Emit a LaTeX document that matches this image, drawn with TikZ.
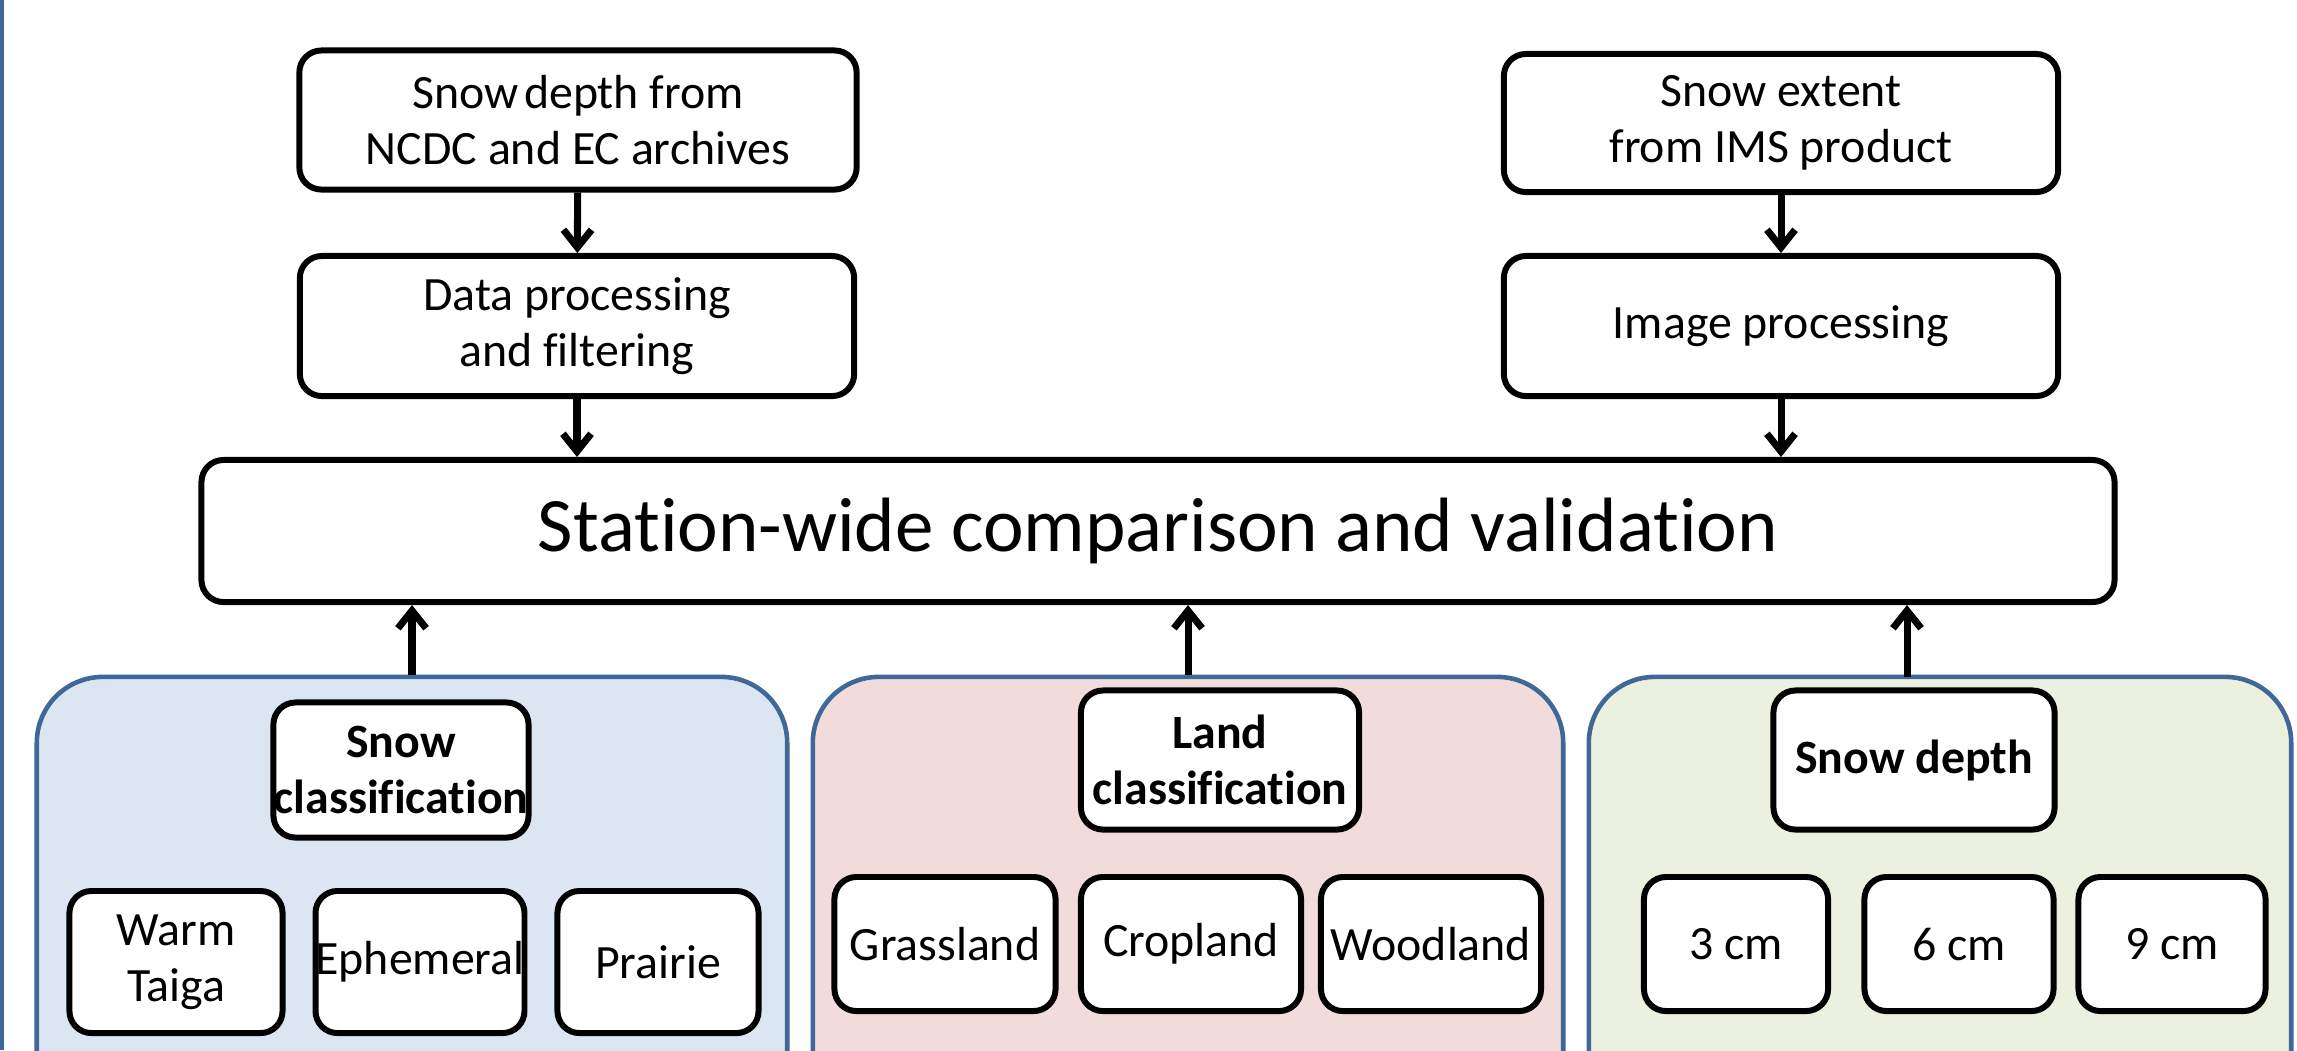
\documentclass[tikz,border=0pt]{standalone}
\usepackage{fontspec}
\setmainfont{Carlito}[Ligatures=NoCommon]
\usetikzlibrary{arrows.meta}
\definecolor{grpline}{HTML}{3F6797}
\definecolor{grpblue}{HTML}{DCE6F2}
\definecolor{grppink}{HTML}{F2DCDB}
\definecolor{grpgreen}{HTML}{EBF1DE}

\begin{document}
\begin{tikzpicture}[x=0.01cm, y=-0.01cm,
    box/.style={draw, line width=1.7pt, rounded corners=0.22cm, fill=white, align=center,
        inner sep=0pt, font=\fontsize{13.6}{15.8}\selectfont},
    boldbox/.style={box, font=\fontsize{13.6}{15.8}\selectfont\bfseries},
    grp/.style={draw=grpline, line width=1.3pt, rounded corners=0.66cm, minimum height=4.6cm},
    arr/.style={line width=2pt, -{Straight Barb[length=5pt,width=8pt]}}]
            %%%%% START %%%%%

            \useasboundingbox (0, 0) rectangle (2297, 1050);
            \path[clip] (0, 0) rectangle (2297, 1050);
            \draw[grpline, line width=1.3pt] (1.5, 0) -- (1.5, 1050);

            % sources
            \node[box, minimum width=5.57cm, minimum height=1.39cm] (ncdc) at (578, 120) {Snow\hspace{0.12em}depth from\\NCDC and EC archives};
            \node[box, minimum width=5.54cm, minimum height=1.40cm] (dataproc) at (577, 326) {Data processing\\and filtering};
            \node[box, minimum width=5.54cm, minimum height=1.38cm] (ims) at (1781, 123) {Snow extent\\from IMS product};
            \node[box, minimum width=5.54cm, minimum height=1.40cm] (imgproc) at (1781, 326) {Image processing};

            \node[box, minimum width=19.12cm, minimum height=1.42cm, font=\fontsize{21.9}{24}\selectfont] (station) at (1158, 531) {Station-wide comparison and validation};

            % groups
            \node[grp, fill=grpblue, minimum width=7.50cm] (gsnow) at (412, 907) {};
            \node[grp, fill=grppink, minimum width=7.50cm] (gland) at (1188, 907) {};
            \node[grp, fill=grpgreen, minimum width=7.02cm] (gdepth) at (1940, 907) {};

            \node[boldbox, minimum width=2.55cm, minimum height=1.35cm] (snowcls) at (401, 770) {Snow\\classification};
            \node[box, minimum width=2.13cm, minimum height=1.42cm] (taiga) at (176, 962) {Warm\\Taiga};
            \node[box, minimum width=2.08cm, minimum height=1.42cm] (ephem) at (420, 962) {Ephemeral};
            \node[box, minimum width=2.01cm, minimum height=1.42cm] (prairie) at (658, 962) {Prairie};

            \node[boldbox, minimum width=2.78cm, minimum height=1.39cm] (landcls) at (1220, 760) {Land\\classification};
            \node[box, minimum width=2.21cm, minimum height=1.34cm] (grass) at (945, 944) {Grassland};
            \node[box, minimum width=2.20cm, minimum height=1.34cm] (crop) at (1191, 944) {Cropland};
            \node[box, minimum width=2.20cm, minimum height=1.34cm] (wood) at (1431, 944) {Woodland};

            \node[boldbox, minimum width=2.81cm, minimum height=1.39cm] (sdepth) at (1914, 760) {Snow depth};
            \node[box, minimum width=1.84cm, minimum height=1.34cm] (cmthree) at (1736, 944) {3 cm};
            \node[box, minimum width=1.89cm, minimum height=1.34cm] (cmsix) at (1959, 944) {6 cm};
            \node[box, minimum width=1.87cm, minimum height=1.34cm] (cmnine) at (2172, 944) {9 cm};

            % arrows
            \draw[arr] (ncdc) -- (dataproc);
            \draw[arr] (dataproc) -- (dataproc |- station.north);
            \draw[arr] (ims) -- (imgproc);
            \draw[arr] (imgproc) -- (imgproc |- station.north);

            \coordinate (depthfoot) at (1907, 677);
            \draw[arr] (gsnow.north) -- (gsnow.north |- station.south);
            \draw[arr] (gland.north) -- (gland.north |- station.south);
            \draw[arr] (depthfoot) -- (depthfoot |- station.south);

            %%%%% END %%%%%
\end{tikzpicture}
\end{document}
